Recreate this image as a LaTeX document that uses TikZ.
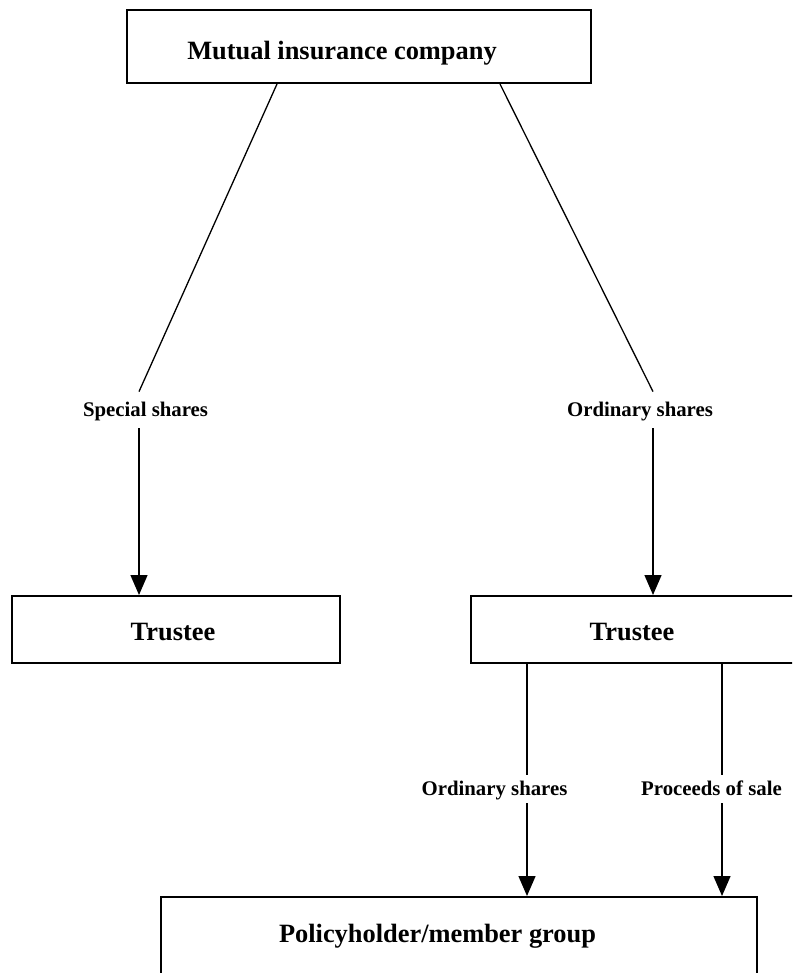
\documentclass[tikz,border=0pt]{standalone}
\usepackage{fontspec}
\setmainfont{Liberation Serif}
\usetikzlibrary{%
  positioning
 ,arrows.meta
}
\tikzstyle{box}=[draw=black,line width=1pt,inner sep=0pt]
\tikzstyle{ttl}=[inner sep=0pt,anchor=base,font=\fontsize{13.2}{16}\selectfont\bfseries]
\tikzstyle{lbl}=[inner xsep=2pt,inner ysep=0pt,text height=7.5pt,text depth=1.5pt,font=\fontsize{10.4}{12}\selectfont\bfseries]

\begin{document}
\begin{tikzpicture}[x=0.5pt,y=-0.5pt,%
  conn/.style={line width=0.65pt},%
  arr/.style={conn,-{Triangle[length=10pt,width=8.5pt]}}]
\clip (0,0) rectangle (792,973);
% boxes
\node[box,minimum width=232pt,minimum height=36.5pt](mic)at(359,46.5){};
\node[box,minimum width=164pt,minimum height=33.5pt](trL)at(176,629.5){};
\node[box,minimum width=179.5pt,minimum height=33.5pt](trR)at(650.5,629.5){};
\node[box,minimum width=298pt,minimum height=51.5pt](pmg)at(459,948.5){};
\node[ttl](micT)at(342,60){Mutual insurance company};
\node[ttl](trLT)at(173,640){Trustee};
\node[ttl](trRT)at(632,640){Trustee};
\node[ttl](pmgT)at(437.5,942){Policyholder/member group};
% labels on the connectors
\node[lbl,minimum height=18pt](lblS)at(145.5,410){Special shares};
\node[lbl,minimum height=18pt](lblO)at(640,410){Ordinary shares};
\node[lbl,minimum height=14pt](lblO2)at(494.5,789){Ordinary shares};
\node[lbl,minimum height=14pt](lblP)at(711.5,789){Proceeds of sale};
% x positions of the lines
\coordinate(xL)at(277,0);
\coordinate(xS)at(139,0);
\coordinate(xR)at(500,0);
\coordinate(xO)at(653,0);
\coordinate(xO2)at(527,0);
\coordinate(xP)at(722,0);
\draw[conn](mic.south -| xL)--(lblS.north -| xS);
\draw[arr](lblS.south -| xS)--(trL.north -| xS);
\draw[conn](mic.south -| xR)--(lblO.north -| xO);
\draw[arr](lblO.south -| xO)--(trR.north -| xO);
\draw[conn](trR.south -| xO2)--(lblO2.north -| xO2);
\draw[arr](lblO2.south -| xO2)--(pmg.north -| xO2);
\draw[conn](trR.south -| xP)--(lblP.north -| xP);
\draw[arr](lblP.south -| xP)--(pmg.north -| xP);
\end{tikzpicture}
\end{document}
